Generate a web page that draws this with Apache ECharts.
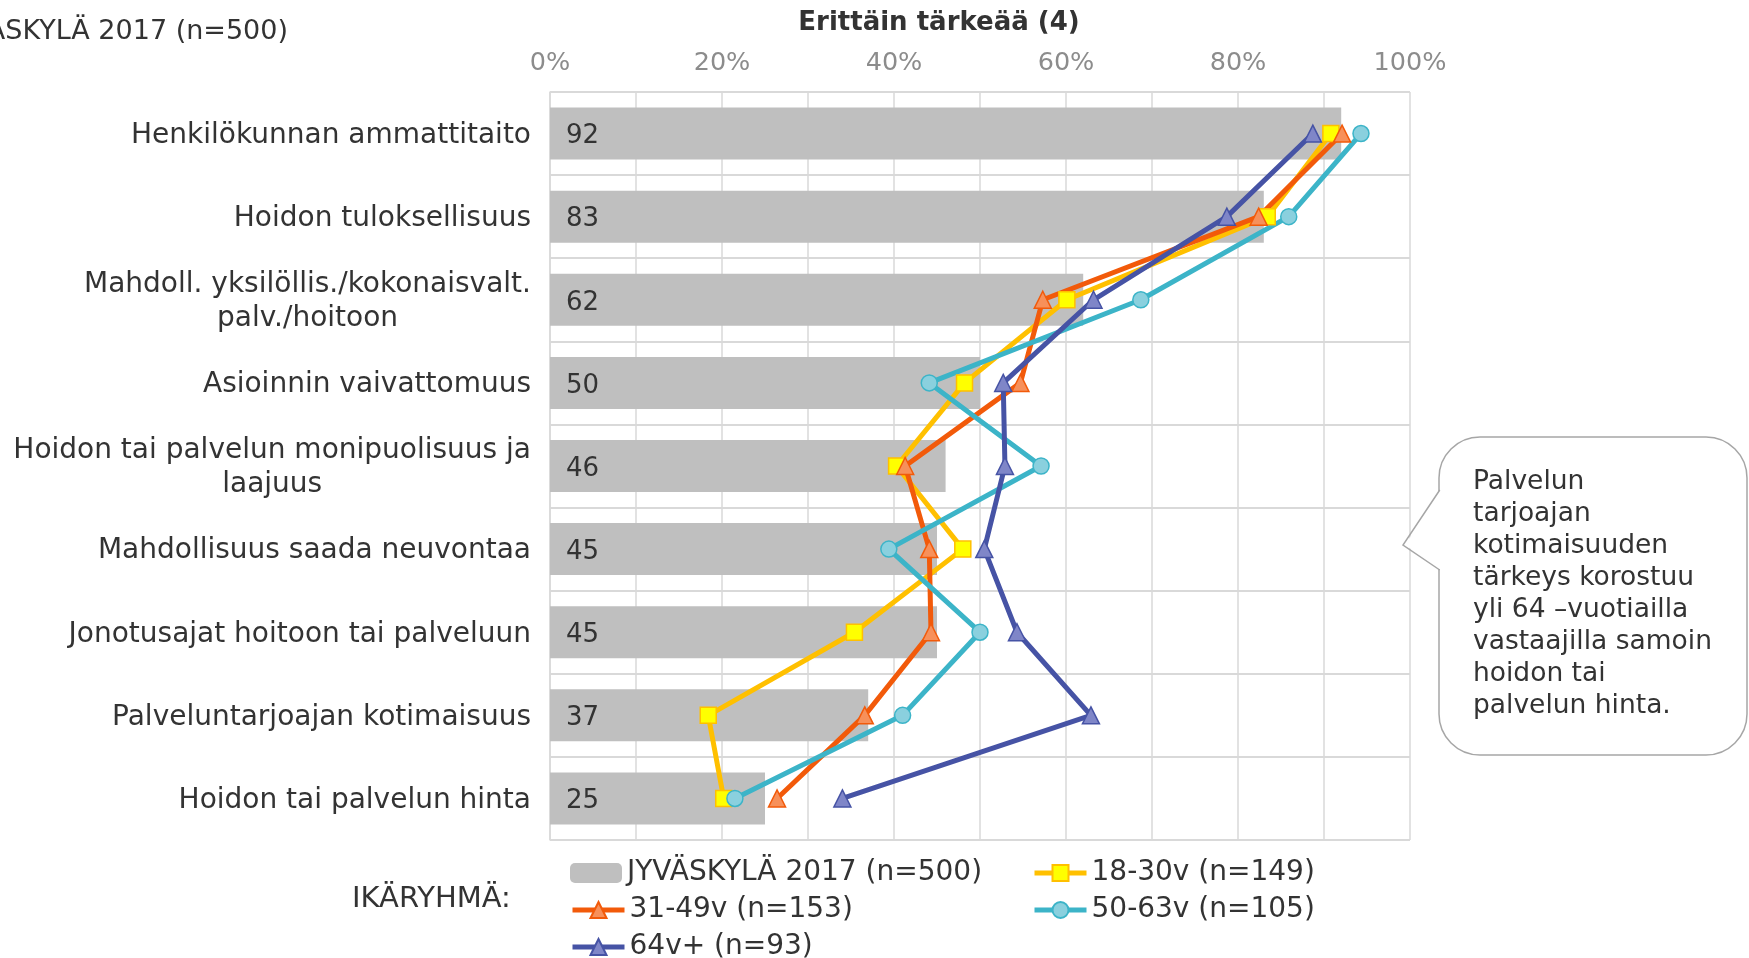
<!DOCTYPE html>
<html>
<head>
<meta charset="utf-8">
<script src="https://cdn.jsdelivr.net/npm/echarts@6/dist/echarts.min.js"></script>
<style>
html,body{margin:0;padding:0;background:#fff;}
#chart{width:1749px;height:958px;}
</style>
</head>
<body>
<div id="chart"></div>
<script>
const categories = [
  'Henkilökunnan ammattitaito',
  'Hoidon tuloksellisuus',
  'Mahdoll. yksilöllis./kokonaisvalt.\npalv./hoitoon',
  'Asioinnin vaivattomuus',
  'Hoidon tai palvelun monipuolisuus ja\nlaajuus',
  'Mahdollisuus saada neuvontaa',
  'Jonotusajat hoitoon tai palveluun',
  'Palveluntarjoajan kotimaisuus',
  'Hoidon tai palvelun hinta'
];
const totalName = 'JYVÄSKYLÄ 2017 (n=500)';
const totalValues = [92, 83, 62, 50, 46, 45, 45, 37, 25];
const age18Name = '18-30v (n=149)';
const age18Values = [90.8, 83.4, 60.1, 48.2, 40.3, 48.0, 35.4, 18.4, 20.2];
const age31Name = '31-49v (n=153)';
const age31Values = [92.1, 82.4, 57.3, 54.7, 41.3, 44.1, 44.3, 36.6, 26.4];
const age50Name = '50-63v (n=105)';
const age50Values = [94.3, 85.9, 68.7, 44.1, 57.1, 39.4, 50.0, 41.0, 21.5];
const age64Name = '64v+ (n=93)';
const age64Values = [88.7, 78.7, 63.2, 52.7, 52.9, 50.5, 54.3, 62.9, 34.0];
const tickValues = [0, 20, 40, 60, 80, 100];

const FONT = 'DejaVu Sans';
const TXT = '#333333';

function lineSeries(name, data, color, fill, symbol) {
  return {
    name: name,
    type: 'line',
    data: data,
    symbol: symbol,
    symbolSize: symbol === 'triangle' ? [17, 17] : 16,
    lineStyle: { color: color, width: 5 },
    itemStyle: { color: fill, borderColor: color, borderWidth: 1.5 },
    z: 5
  };
}

function legendItem(name, left, centerY) {
  return {
    left: left, top: centerY - 15, orient: 'horizontal',
    itemWidth: 52, itemHeight: 20, itemGap: 0, padding: 0,
    data: [name],
    lineStyle: { width: 5 },
    textStyle: { fontFamily: FONT, fontSize: 28, color: TXT, lineHeight: 30 }
  };
}

const chart = echarts.init(document.getElementById('chart'), null, { renderer: 'canvas' });
const option = {
  animation: false,
  backgroundColor: '#ffffff',
  textStyle: { fontFamily: FONT },
  grid: { left: 550, right: 339, top: 92, bottom: 118, containLabel: false },
  xAxis: {
    type: 'value',
    position: 'top',
    min: 0,
    max: 100,
    interval: 10,
    axisLine: { show: false },
    axisTick: { show: false },
    splitLine: { show: true, lineStyle: { color: '#d9d9d9', width: 1.5 } },
    axisLabel: {
      fontFamily: FONT,
      fontSize: 25.5,
      color: '#8c8c8c',
      margin: 16,
      formatter: function (v) { return tickValues.indexOf(v) >= 0 ? v + '%' : ''; }
    }
  },
  yAxis: {
    type: 'category',
    data: categories,
    inverse: true,
    axisLine: { show: true, lineStyle: { color: '#d9d9d9', width: 1.5 } },
    axisTick: { show: false },
    splitLine: { show: true, lineStyle: { color: '#d9d9d9', width: 2 } },
    axisLabel: {
      margin: 19,
      color: TXT,
      fontFamily: FONT,
      fontSize: 28,
      lineHeight: 34,
      formatter: function (v) {
        return v.split('\n').map(function (l) { return '{c|' + l + '}'; }).join('\n');
      },
      rich: {
        c: { align: 'center', fontFamily: FONT, fontSize: 28, lineHeight: 34, color: TXT, padding: [4, 0, 0, 0] }
      }
    }
  },
  legend: [
    legendItem(totalName, 570, 873),
    legendItem(age18Name, 1032, 873),
    legendItem(age31Name, 570, 910),
    legendItem(age50Name, 1032, 910),
    legendItem(age64Name, 570, 947)
  ],
  series: [
    {
      name: totalName,
      type: 'bar',
      data: totalValues,
      barWidth: 52,
      itemStyle: { color: '#bfbfbf' },
      label: {
        show: true,
        position: 'insideLeft',
        distance: 16,
        offset: [0, 3],
        fontFamily: FONT,
        fontSize: 26,
        color: TXT
      },
      z: 2
    },
    lineSeries(age18Name, age18Values, '#ffc000', '#ffff00', 'rect'),
    lineSeries(age31Name, age31Values, '#f25a0a', '#f7905a', 'triangle'),
    lineSeries(age50Name, age50Values, '#3cb4c8', '#8ad0de', 'circle'),
    lineSeries(age64Name, age64Values, '#4653a5', '#7f86c8', 'triangle')
  ],
  graphic: [
    {
      type: 'text', x: 939, y: 23,
      style: { text: 'Erittäin tärkeää (4)', textAlign: 'center', textVerticalAlign: 'middle', fontFamily: FONT, fontSize: 26, fontWeight: 'bold', fill: TXT }
    },
    {
      type: 'text', x: 288, y: 32,
      style: { text: totalName, textAlign: 'right', textVerticalAlign: 'middle', fontFamily: FONT, fontSize: 27, fill: TXT }
    },
    {
      type: 'text', x: 352, y: 899,
      style: { text: 'IKÄRYHMÄ:', textAlign: 'left', textVerticalAlign: 'middle', fontFamily: FONT, fontSize: 29, fill: TXT }
    },
    {
      type: 'rect',
      shape: { x: 1439, y: 437, width: 308, height: 318, r: 41 },
      style: { fill: '#ffffff', stroke: '#a6a6a6', lineWidth: 1.5 },
      z: 10
    },
    {
      type: 'rect',
      shape: { x: 1437, y: 491, width: 4, height: 78 },
      style: { fill: '#ffffff' },
      z: 11
    },
    {
      type: 'polygon',
      shape: { points: [[1440, 492], [1405, 545], [1440, 568]] },
      style: { fill: '#ffffff' },
      z: 11
    },
    {
      type: 'polyline',
      shape: { points: [[1439.75, 490], [1403, 545], [1439.75, 570]] },
      style: { fill: 'none', stroke: '#a6a6a6', lineWidth: 1.5 },
      z: 12
    },
    {
      type: 'text', x: 1473, y: 466,
      style: {
        text: 'Palvelun\ntarjoajan\nkotimaisuuden\ntärkeys korostuu\nyli 64 –vuotiailla\nvastaajilla samoin\nhoidon tai\npalvelun hinta.',
        fontFamily: FONT, fontSize: 26.5, lineHeight: 32, fill: TXT, textAlign: 'left', textVerticalAlign: 'top'
      },
      z: 13
    }
  ]
};
chart.setOption(option);
</script>
</body>
</html>
